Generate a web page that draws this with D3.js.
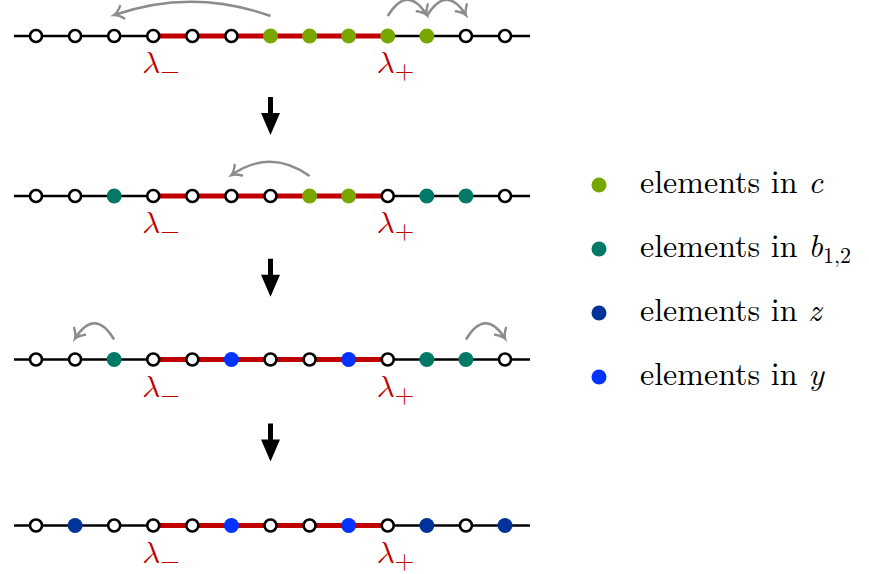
<!DOCTYPE html>
<html>
<head>
<meta charset="utf-8">
<script src="https://cdn.jsdelivr.net/npm/d3@7"></script>
<style>
  body { margin: 0; background: #fff; }
</style>
</head>
<body>
<div id="chart"></div>
<script>
// state of every slot (13 per row), o = empty
var row1 = ["o", "o", "o", "o", "o", "o", "c", "c", "c", "c", "c", "o", "o"];
var row2 = ["o", "o", "b", "o", "o", "o", "o", "c", "c", "o", "b", "b", "o"];
var row3 = ["o", "o", "b", "o", "o", "y", "o", "o", "y", "o", "b", "b", "o"];
var row4 = ["o", "z", "o", "o", "o", "y", "o", "o", "y", "o", "z", "o", "z"];
var rows = [row1, row2, row3, row4];

// moves drawn as gray arcs: [from slot, to slot]
var moves1 = [[6, 2], [9, 10], [10, 11]];
var moves2 = [[7, 5]];
var moves3 = [[2, 1], [11, 12]];
var moves4 = [];
var moves = [moves1, moves2, moves3, moves4];

var lambdaMinus = 3;
var lambdaPlus = 9;

var legendKeys = ["c", "b", "z", "y"];
var legendSub = ["", "1,2", "", ""];

var colors = { c: "#78a800", b: "#007a66", z: "#003399", y: "#0033ff" };
var textFont = "'Latin Modern Roman', 'Liberation Serif', serif";
var mathFont = "'Latin Modern Math', 'Latin Modern Roman', 'Liberation Serif', serif";

var width = 869, height = 574;

var svg = d3.select("#chart").append("svg")
    .attr("width", width)
    .attr("height", height)
    .style("background", "#fff");

var x = d3.scaleLinear().domain([0, 12]).range([36, 505]);
var y = d3.scaleLinear().domain([0, 1, 2, 3]).range([36, 196, 359.5, 525.5]);

// arrow head for the gray arcs
svg.append("defs").append("marker")
    .attr("id", "hd")
    .attr("viewBox", "-12 -12 24 24")
    .attr("markerUnits", "userSpaceOnUse")
    .attr("markerWidth", 24).attr("markerHeight", 24)
    .attr("refX", 0).attr("refY", 0)
    .attr("orient", "auto")
    .append("path")
    .attr("d", "M-8.5,-6.5 C-5,-2.5 -2,-0.6 0,0 C-2,0.6 -5,2.5 -8.5,6.5")
    .attr("fill", "none")
    .attr("stroke", "#8c8c8c")
    .attr("stroke-width", 2.4)
    .attr("stroke-linecap", "round");

rows.forEach(function(row, r) {
    var g = svg.append("g");
    var yy = y(r);

    g.append("line")
        .attr("x1", x(0) - 22).attr("x2", x(12) + 25)
        .attr("y1", yy).attr("y2", yy)
        .attr("stroke", "#000").attr("stroke-width", 2.4);

    g.append("line")
        .attr("x1", x(lambdaMinus)).attr("x2", x(lambdaPlus))
        .attr("y1", yy).attr("y2", yy)
        .attr("stroke", "#c00000").attr("stroke-width", 5);

    // moves
    g.selectAll("path.mv")
        .data(moves[r])
        .enter().append("path")
        .attr("class", "mv")
        .attr("d", function(d) {
            var x1 = x(d[0]), x2 = x(d[1]);
            var y1 = yy - 20, y2 = yy - 21;
            var h = Math.abs(x2 - x1) > 60 ? 28 : 32;
            return "M" + x1 + "," + y1 + " Q" + (x1 + x2) / 2 + "," + (yy - 20 - h) + " " + x2 + "," + y2;
        })
        .attr("fill", "none")
        .attr("stroke", "#8c8c8c")
        .attr("stroke-width", 2.5)
        .attr("marker-end", "url(#hd)");

    // slots
    g.selectAll("circle")
        .data(row)
        .enter().append("circle")
        .attr("cx", function(d, i) { return x(i); })
        .attr("cy", yy)
        .attr("r", function(d) { return d === "o" ? 6 : 7.5; })
        .attr("fill", function(d) { return d === "o" ? "#fff" : colors[d]; })
        .attr("stroke", function(d) { return d === "o" ? "#000" : "none"; })
        .attr("stroke-width", 2.6);

    // lambda labels (math italic lambda)
    [[lambdaMinus, "\u2212"], [lambdaPlus, "+"]].forEach(function(l) {
        var t = g.append("text")
            .attr("x", x(l[0]) - 11)
            .attr("y", yy + 37)
            .attr("fill", "#c00000")
            .style("font-family", mathFont)
            .style("font-size", "31px")
            .text("\uD835\uDF06");
        t.append("tspan")
            .attr("dy", 6)
            .style("font-size", "25px")
            .text(l[1]);
    });
});

// down arrows between rows
d3.range(3).forEach(function(r) {
    var cx = x(6), mid = (y(r) + y(r + 1)) / 2;
    var top = mid - 19, neck = mid - 3, tip = mid + 19;
    svg.append("path")
        .attr("d", "M" + (cx - 2.5) + "," + top + " L" + (cx + 2.5) + "," + top +
            " L" + (cx + 2.5) + "," + neck + " L" + (cx + 9.5) + "," + neck +
            " L" + cx + "," + tip + " L" + (cx - 9.5) + "," + neck +
            " L" + (cx - 2.5) + "," + neck + " Z")
        .attr("fill", "#000");
});

// legend
var ly = d3.scaleLinear().domain([0, 3]).range([185, 377]);
var leg = svg.append("g");
legendKeys.forEach(function(k, i) {
    leg.append("circle")
        .attr("cx", 599).attr("cy", ly(i))
        .attr("r", 7.5)
        .attr("fill", colors[k]);
    var t = leg.append("text")
        .attr("x", 640).attr("y", ly(i) + 8)
        .attr("fill", "#000")
        .style("font-family", textFont)
        .style("font-size", "32px")
        .text("elements in ");
    t.append("tspan").style("font-style", "italic").text(k);
    if (legendSub[i]) {
        t.append("tspan")
            .attr("dy", 6)
            .style("font-size", "22px")
            .text(legendSub[i]);
    }
});
</script>
</body>
</html>
